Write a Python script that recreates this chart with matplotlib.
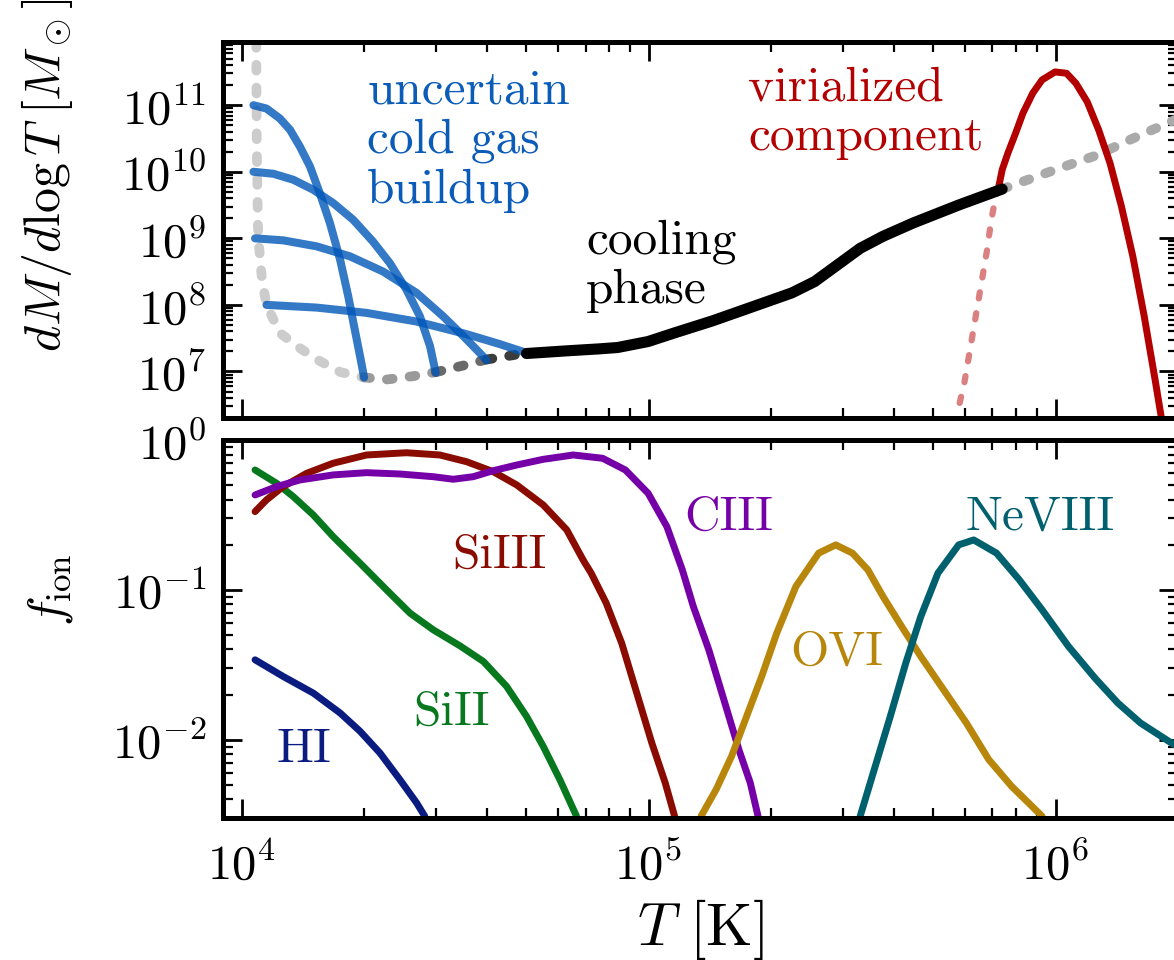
import numpy as np
import matplotlib
matplotlib.use("Agg")
import matplotlib.pyplot as plt
from matplotlib.ticker import LogLocator, NullFormatter

plt.rcParams['font.family'] = 'serif'
plt.rcParams['font.serif'] = ['cmr10']
plt.rcParams['mathtext.fontset'] = 'cm'
plt.rcParams['axes.formatter.use_mathtext'] = True
plt.rcParams['axes.unicode_minus'] = False

# ---- top panel: dM/dlogT, all values are log10 ----
# grey dashed "floor" curve, split later into shaded segments
floor_logT = [4.036, 4.037, 4.040, 4.043, 4.050, 4.061, 4.094, 4.136, 4.185,
              4.243, 4.301, 4.358, 4.422, 4.477, 4.545, 4.602, 4.653, 4.700]
floor_logM = [11.95, 10.5, 9.2, 8.87, 8.38, 8.0, 7.58, 7.38, 7.18,
              6.99, 6.91, 6.88, 6.93, 6.99, 7.09, 7.18, 7.23, 7.28]
floor_breaks = [4.301, 4.477, 4.602, 4.700]

# blue "uncertain cold gas" curves
blue_logT = [
    [4.029, 4.061, 4.094, 4.119, 4.143, 4.168, 4.192, 4.217, 4.242, 4.262,
     4.278, 4.291, 4.301],
    [4.029, 4.078, 4.127, 4.176, 4.225, 4.274, 4.323, 4.364, 4.405, 4.438,
     4.463, 4.477],
    [4.033, 4.102, 4.184, 4.266, 4.348, 4.430, 4.495, 4.545, 4.577, 4.602],
    [4.061, 4.184, 4.307, 4.430, 4.553, 4.635, 4.700],
]
blue_logM = [
    [11.00, 10.95, 10.80, 10.63, 10.38, 10.08, 9.68, 9.23, 8.68, 8.13,
     7.63, 7.23, 6.91],
    [10.00, 9.97, 9.88, 9.73, 9.53, 9.28, 8.95, 8.63, 8.23, 7.83,
     7.38, 6.98],
    [9.00, 8.97, 8.88, 8.73, 8.50, 8.18, 7.83, 7.53, 7.33, 7.17],
    [8.00, 7.96, 7.88, 7.75, 7.56, 7.41, 7.28],
]

# black cooling phase
cool_logT = [4.700, 4.799, 4.880, 4.924, 4.999, 5.064, 5.157, 5.250, 5.352,
             5.408, 5.464, 5.520, 5.576, 5.650, 5.762, 5.869]
cool_logM = [7.27, 7.31, 7.34, 7.36, 7.45, 7.58, 7.76, 7.96, 8.18,
             8.35, 8.60, 8.85, 9.03, 9.23, 9.50, 9.74]

# grey dashed continuation above the cooling phase
hot_logT = [5.869, 5.999, 6.102, 6.190, 6.301]
hot_logM = [9.74, 10.03, 10.25, 10.50, 10.80]

# virialized component (solid) and its hidden low-T side (dotted)
vir_logT = [5.860, 5.869, 5.883, 5.902, 5.920, 5.944, 5.967, 5.999, 6.027,
            6.050, 6.078, 6.106, 6.134, 6.162, 6.190, 6.218, 6.246, 6.260]
vir_logM = [9.76, 10.03, 10.28, 10.58, 10.88, 11.18, 11.38, 11.50, 11.48,
            11.33, 11.05, 10.63, 10.13, 9.48, 8.73, 7.83, 6.83, 6.31]
virlow_logT = [5.860, 5.850, 5.841, 5.832, 5.818, 5.804, 5.790, 5.776, 5.757]
virlow_logM = [9.76, 9.53, 9.23, 8.83, 8.33, 7.83, 7.33, 6.83, 6.33]

# ---- bottom panel: ion fractions, log10 ----
ions = ['HI', 'SiII', 'SiIII', 'CIII', 'OVI', 'NeVIII']
ion_colors = ['#0b1c80', '#08781f', '#8a0c00', '#7600a8', '#b8860b', '#00606e']
ion_logT = [
    [4.033, 4.102, 4.176, 4.242, 4.291, 4.340, 4.389, 4.430, 4.450],
    [4.033, 4.086, 4.127, 4.176, 4.225, 4.291, 4.356, 4.414, 4.471, 4.536,
     4.594, 4.651, 4.700, 4.741, 4.782, 4.823],
    [4.033, 4.061, 4.102, 4.160, 4.225, 4.307, 4.405, 4.487, 4.553, 4.618,
     4.676, 4.741, 4.799, 4.839, 4.859, 4.896, 4.934, 4.971, 5.008, 5.041, 5.064],
    [4.033, 4.086, 4.143, 4.225, 4.307, 4.389, 4.471, 4.520, 4.569, 4.618,
     4.676, 4.741, 4.815, 4.887, 4.943, 4.999, 5.045, 5.083, 5.110, 5.148,
     5.185, 5.222, 5.250, 5.269],
    [5.129, 5.166, 5.204, 5.241, 5.278, 5.315, 5.362, 5.418, 5.460, 5.501,
     5.539, 5.576, 5.622, 5.669, 5.725, 5.781, 5.836, 5.892, 5.967],
    [5.520, 5.557, 5.594, 5.632, 5.669, 5.711, 5.762, 5.799, 5.855, 5.911,
     5.967, 6.032, 6.097, 6.153, 6.209, 6.291],
]
ion_logf = [
    [-1.467, -1.578, -1.689, -1.822, -1.944, -2.089, -2.267, -2.422, -2.511],
    [-0.200, -0.289, -0.378, -0.500, -0.645, -0.822, -1.000, -1.156, -1.267, -1.373,
     -1.478, -1.644, -1.844, -2.044, -2.267, -2.511],
    [-0.478, -0.400, -0.311, -0.222, -0.155, -0.100, -0.085, -0.100, -0.145, -0.211,
     -0.300, -0.433, -0.600, -0.800, -0.889, -1.089, -1.356, -1.689, -2.022, -2.289,
     -2.511],
    [-0.367, -0.311, -0.267, -0.233, -0.218, -0.227, -0.245, -0.262, -0.245, -0.205,
     -0.167, -0.129, -0.100, -0.122, -0.200, -0.356, -0.578, -0.867, -1.111, -1.400,
     -1.733, -2.067, -2.289, -2.511],
    [-2.511, -2.333, -2.111, -1.844, -1.578, -1.289, -0.978, -0.755, -0.700, -0.755,
     -0.867, -1.044, -1.245, -1.445, -1.667, -1.889, -2.133, -2.311, -2.511],
    [-2.511, -2.178, -1.845, -1.489, -1.178, -0.889, -0.700, -0.667, -0.755, -0.933,
     -1.133, -1.378, -1.589, -1.755, -1.889, -2.033],
]
# label anchors in axes fraction (left, baseline)
ion_label_pos = [(0.056, 0.149), (0.199, 0.246), (0.240, 0.661),
                 (0.483, 0.762), (0.594, 0.405), (0.778, 0.762)]


def pw(a):
    return 10.0 ** np.asarray(a)


fig = plt.figure(figsize=(11.74, 9.6), dpi=100)
ax1 = fig.add_axes([0.18995, 0.56458, 0.81346, 0.39167])
ax2 = fig.add_axes([0.18995, 0.14792, 0.81346, 0.39375])

# top panel
dash = (0, (0.6, 1.75))
ax1.plot(pw(floor_logT[:11]), pw(floor_logM[:11]), color='#cccccc', lw=7,
         ls=dash, dash_capstyle='round')
seg_cols = ['#9a9a9a', '#6a6a6a', '#3c3c3c']
for lo, hi, c in zip(floor_breaks[:-1], floor_breaks[1:], seg_cols):
    idx = [i for i, t in enumerate(floor_logT) if lo <= t <= hi]
    ax1.plot(pw([floor_logT[i] for i in idx]), pw([floor_logM[i] for i in idx]),
             color=c, lw=7, ls=dash, dash_capstyle='round')

for xs, ys in zip(blue_logT, blue_logM):
    ax1.plot(pw(xs), pw(ys), color='#0057b8', alpha=0.8, lw=5.8,
             solid_capstyle='round', solid_joinstyle='round')

ax1.plot(pw(hot_logT), pw(hot_logM), color='#aaaaaa', lw=7,
         ls=dash, dash_capstyle='round')
ax1.plot(pw(virlow_logT), pw(virlow_logM), color='#da8080', lw=4.5,
         ls=(0, (1.0, 2.4)), dash_capstyle='round')
ax1.plot(pw(vir_logT), pw(vir_logM), color='#b30000', lw=5,
         solid_joinstyle='round')
ax1.plot(pw(cool_logT), pw(cool_logM), color='k', lw=8,
         solid_capstyle='round', solid_joinstyle='round')

ax1.text(0.151, 0.928, 'uncertain\ncold gas\nbuildup', transform=ax1.transAxes,
         color='#0a5cb8', fontsize=35.5, va='top', ha='left', linespacing=1.15)
ax1.text(0.380, 0.529, 'cooling\nphase', transform=ax1.transAxes,
         color='k', fontsize=35.5, va='top', ha='left', linespacing=1.15)
ax1.text(0.550, 0.935, 'virialized\ncomponent', transform=ax1.transAxes,
         color='#b30000', fontsize=35.5, va='top', ha='left', linespacing=1.15)

ax1.set_ylim(2.0e6, 8.9e11)
ax1.set_ylabel(r'$dM/d\log T\;[M_\odot]$', fontsize=36)
ax1.yaxis.set_label_coords(-0.155, 0.646)

# bottom panel
for name, c, xs, ys, (lx, ly) in zip(ions, ion_colors, ion_logT, ion_logf, ion_label_pos):
    ax2.plot(pw(xs), pw(ys), color=c, lw=5, solid_capstyle='round',
             solid_joinstyle='round')
    ax2.text(lx, ly, name, transform=ax2.transAxes, color=c, fontsize=35.5,
             ha='left', va='baseline')

ax2.set_ylim(3.0e-3, 1.0)
ax2.set_ylabel(r'$f_\mathrm{ion}$', fontsize=36)
ax2.yaxis.set_label_coords(-0.155, 0.603)
ax2.set_xlabel(r'$T\ [\mathrm{K}]$', fontsize=43, labelpad=6)

for ax in (ax1, ax2):
    ax.set_xscale('log')
    ax.set_yscale('log')
    ax.set_xlim(9.0e3, 2.0e6)
    ax.xaxis.set_major_locator(LogLocator(base=10, numticks=100))
    ax.yaxis.set_major_locator(LogLocator(base=10, numticks=100))
    ax.xaxis.set_minor_locator(LogLocator(base=10, subs=np.arange(2, 10), numticks=100))
    ax.yaxis.set_minor_locator(LogLocator(base=10, subs=np.arange(2, 10), numticks=100))
    ax.xaxis.set_minor_formatter(NullFormatter())
    ax.yaxis.set_minor_formatter(NullFormatter())
    ax.tick_params(which='both', direction='in', top=True, right=True,
                   labelsize=35, pad=12)
    ax.tick_params(which='major', length=14, width=2)
    ax.tick_params(which='minor', length=7, width=1.6)
    for sp in ax.spines.values():
        sp.set_linewidth(3.6)

ax1.tick_params(labelbottom=False)
ax2.tick_params(axis='x', which='both', pad=17)

fig.savefig('out.png', dpi=100)
